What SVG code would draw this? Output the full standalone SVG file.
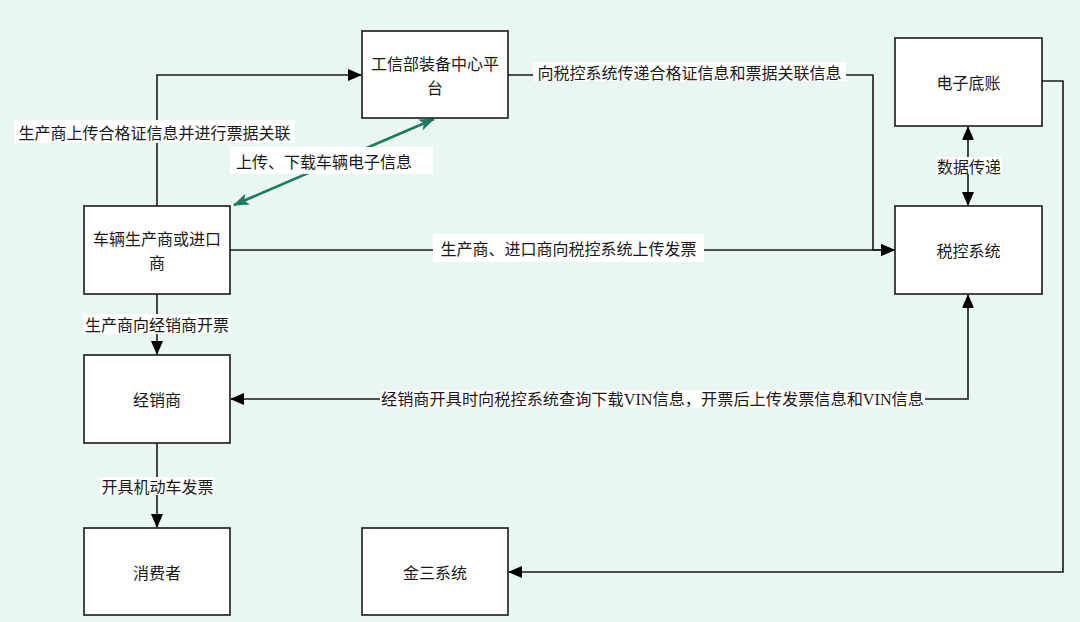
<svg xmlns="http://www.w3.org/2000/svg" width="1080" height="622" viewBox="0 0 1080 622">
<defs>
<style>
.node rect{fill:#fff;stroke:#1a1a1a;stroke-width:1.6}
.node text{font-family:"Noto Sans CJK SC","Liberation Sans",sans-serif;font-size:16px;fill:#1a1a1a;text-anchor:middle;dominant-baseline:central}
.edge{fill:none;stroke:#1a1a1a;stroke-width:1.6}
.green{fill:none;stroke:#1e7a5e;stroke-width:2.6}
.lbg{fill:#fff}
.lbl{font-family:"Noto Sans CJK SC","Liberation Sans",sans-serif;font-size:16px;fill:#1a1a1a;text-anchor:middle;dominant-baseline:central}
.lbls{font-family:"Liberation Serif","Noto Sans CJK SC",serif;font-size:16px;fill:#1a1a1a;text-anchor:middle;dominant-baseline:central}
</style>
<marker id="ah" markerUnits="userSpaceOnUse" markerWidth="14" markerHeight="12" refX="13" refY="6" orient="auto-start-reverse" viewBox="0 0 14 12">
<path d="M0,0 L14,6 L0,12 Z" fill="#000"/>
</marker>
<marker id="ag" markerUnits="userSpaceOnUse" markerWidth="16" markerHeight="12" refX="15" refY="6" orient="auto-start-reverse" viewBox="0 0 16 12">
<path d="M0,0 L16,6 L0,12 L4,6 Z" fill="#1e7a5e"/>
</marker>
</defs>
<rect x="0" y="0" width="1080" height="622" fill="#e8f7f3"/>

<g id="connectors">
<path class="edge" d="M157,206 V75 H361" marker-end="url(#ah)"/>
<path class="green" d="M234,205 L434,119" marker-start="url(#ag)" marker-end="url(#ag)"/>
<path class="edge" d="M508,75 H873 V250 H894" marker-end="url(#ah)"/>
<path class="edge" d="M230,250 H894" marker-end="url(#ah)"/>
<path class="edge" d="M968,166 V127" marker-end="url(#ah)"/>
<path class="edge" d="M968,166 V205" marker-end="url(#ah)"/>
<path class="edge" d="M157,294 V354" marker-end="url(#ah)"/>
<path class="edge" d="M968,295 V399 H231" marker-start="url(#ah)" marker-end="url(#ah)"/>
<path class="edge" d="M157,443 V527" marker-end="url(#ah)"/>
<path class="edge" d="M1042,81 H1063 V572 H509" marker-end="url(#ah)"/>

<rect class="lbg" x="14" y="120" width="281" height="23"/>
<text class="lbl" x="154.5" y="131.5">生产商上传合格证信息并进行票据关联</text>
<rect class="lbg" x="230" y="147" width="203" height="27"/>
<text class="lbl" x="324" y="160.5">上传、下载车辆电子信息</text>
<rect class="lbg" x="533" y="62" width="313" height="19"/>
<text class="lbl" x="689.5" y="71.5">向税控系统传递合格证信息和票据关联信息</text>
<rect class="lbg" x="433" y="234" width="271" height="28"/>
<text class="lbl" x="568.5" y="248">生产商、进口商向税控系统上传发票</text>
<rect class="lbg" x="936" y="157" width="66" height="17"/>
<text class="lbl" x="969" y="165.5">数据传递</text>
<rect class="lbg" x="83" y="314" width="148" height="20"/>
<text class="lbl" x="157" y="324">生产商向经销商开票</text>
<rect class="lbg" x="100" y="477" width="115" height="18"/>
<text class="lbl" x="157.5" y="486">开具机动车发票</text>
<rect class="lbg" x="380" y="390" width="545" height="18"/>
<text class="lbls" x="652.5" y="399" textLength="543" lengthAdjust="spacingAndGlyphs">经销商开具时向税控系统查询下载VIN信息，开票后上传发票信息和VIN信息</text>
</g>

<g id="node-gxb" class="node">
<rect x="362" y="31" width="146" height="87"/>
<text x="435" y="63.3">工信部装备中心平<tspan x="435" dy="23.5">台</tspan></text>
</g>
<g id="node-scs" class="node">
<rect x="84" y="206" width="146" height="88"/>
<text x="157" y="238.3">车辆生产商或进口<tspan x="157" dy="23.5">商</tspan></text>
</g>
<g id="node-dzdz" class="node">
<rect x="895" y="38" width="147" height="88"/>
<text x="968.5" y="82">电子底账</text>
</g>
<g id="node-skxt" class="node">
<rect x="895" y="206" width="147" height="88"/>
<text x="968.5" y="250">税控系统</text>
</g>
<g id="node-jxs" class="node">
<rect x="84" y="355" width="146" height="88"/>
<text x="157" y="399">经销商</text>
</g>
<g id="node-xfz" class="node">
<rect x="84" y="528" width="146" height="87"/>
<text x="157" y="572">消费者</text>
</g>
<g id="node-jsxt" class="node">
<rect x="362" y="528" width="146" height="87"/>
<text x="435" y="572">金三系统</text>
</g>
</svg>
